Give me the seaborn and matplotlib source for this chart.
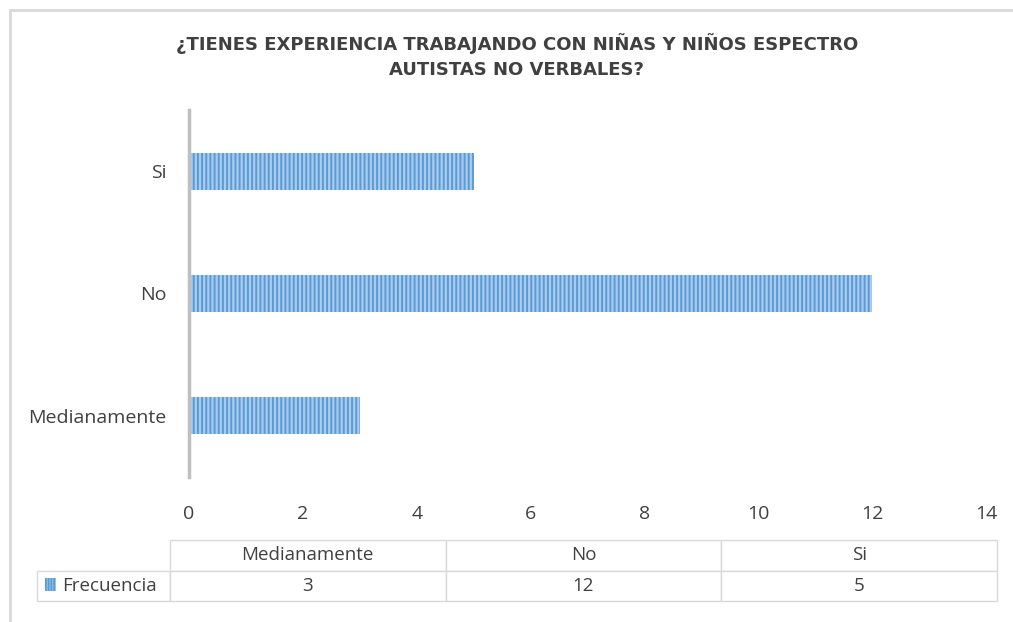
import matplotlib
matplotlib.use("Agg")
import matplotlib.pyplot as plt
import seaborn as sns
import pandas as pd
from matplotlib.lines import Line2D
from matplotlib.patches import Rectangle

# datos
categorias = ["Medianamente", "No", "Si"]
frecuencia = [3, 12, 5]
serie = "Frecuencia"
titulo = "¿TIENES EXPERIENCIA TRABAJANDO CON NIÑAS Y NIÑOS ESPECTRO\nAUTISTAS NO VERBALES?"

df = pd.DataFrame({"categoria": categorias, "valor": frecuencia})

sns.set_style("white")
plt.rcParams["font.family"] = ["Open Sans", "DejaVu Sans"]
plt.rcParams["hatch.linewidth"] = 1.4

W, H = 1013, 622
fig = plt.figure(figsize=(W / 100, H / 100), dpi=100)

def fx(px):
    return px / W

def fy(py):
    return 1 - py / H

ax = fig.add_axes([fx(189), fy(477), fx(986) - fx(189), fy(110) - fy(477)])

orden = categorias[::-1]
sns.barplot(data=df, x="valor", y="categoria", order=orden, orient="h",
            color="#A9CBEE", width=0.3, ax=ax, saturation=1)
for p in ax.patches:
    p.set_hatch("||||")
    p.set_edgecolor("#5B9BD5")
    p.set_linewidth(0)

ax.set_xlim(0, 14)
ax.set_xticks(range(0, 15, 2))
ax.set_xlabel("")
ax.set_ylabel("")
for s in ["top", "right", "bottom"]:
    ax.spines[s].set_visible(False)
ax.spines["left"].set_color("#BFBFBF")
ax.spines["left"].set_linewidth(2.5)
ax.tick_params(axis="both", length=0, labelsize=14, labelcolor="#404040")
ax.tick_params(axis="x", pad=20)
ax.tick_params(axis="y", pad=16)

fig.text(0.51, fy(56), titulo, ha="center", va="center", fontsize=13,
         fontweight="bold", color="#404040", linespacing=1.45,
         family=["DejaVu Sans"])

# tabla de datos
tax = fig.add_axes([fx(37), fy(601), fx(997) - fx(37), fy(540) - fy(601)])
tax.axis("off")
tabla = tax.table(cellText=[[serie] + [str(v) for v in frecuencia]],
                  colLabels=[""] + categorias,
                  colWidths=[133, 276, 276, 276],
                  cellLoc="center", bbox=[0, 0, 1, 1])
tabla.auto_set_font_size(False)
for (r, c), cell in tabla.get_celld().items():
    cell.set_edgecolor("#D9D9D9")
    cell.set_linewidth(1)
    cell.get_text().set_fontsize(13.5)
    cell.get_text().set_color("#404040")
tabla[0, 0].visible_edges = ""
tabla[1, 0]._loc = "left"
tabla[1, 0].get_text().set_horizontalalignment("left")
tabla[1, 0].PAD = 0.19
tax.add_patch(Rectangle((fx(45), fy(591)), fx(56) - fx(45), fy(578) - fy(591),
                        transform=fig.transFigure, facecolor="#A9CBEE",
                        edgecolor="#5B9BD5", hatch="||||||", linewidth=0,
                        clip_on=False))

# borde del gráfico
fig.add_artist(Line2D([fx(10), fx(10)], [fy(10), 0], color="#D9D9D9", lw=2))
fig.add_artist(Line2D([fx(10), 1], [fy(10), fy(10)], color="#D9D9D9", lw=2))

fig.savefig("out.png", dpi=100)
